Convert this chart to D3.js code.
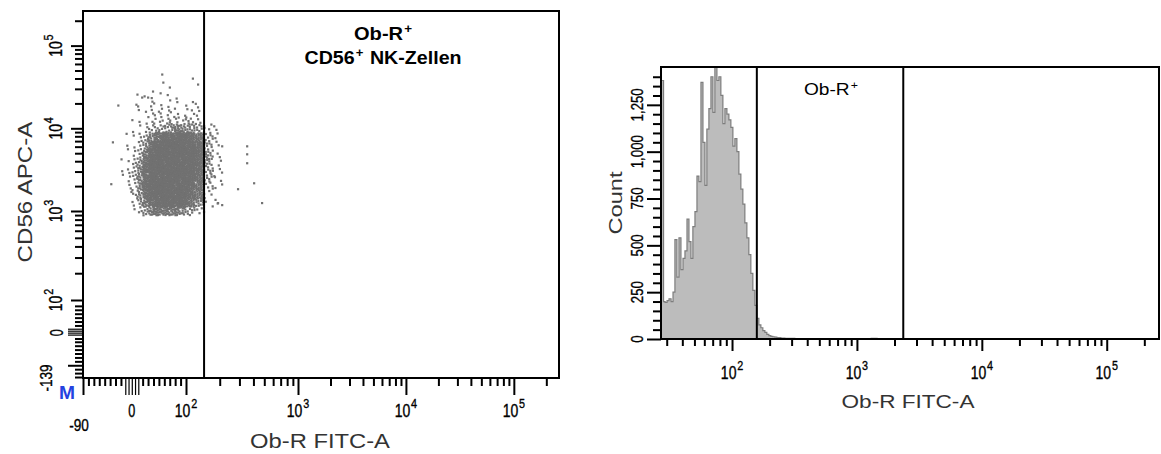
<!DOCTYPE html>
<html><head><meta charset="utf-8">
<script src="https://cdn.jsdelivr.net/npm/d3@7"></script>
<style>
body{margin:0;background:#fff;}
svg{display:block;font-family:Arial,"Liberation Sans",sans-serif;}
</style></head><body>
<svg id="c" width="1161" height="454"></svg>
<script>
// ================= DATA =================
// Left panel: density of the CD56+ cloud
// column edges (Ob-R FITC-A values) and row edges (CD56 APC-A values, top to bottom)
const fitcEdges = [-30,-20,-10,0,10,20,30,40,50,60,70,80,90,100,120,145,175,210];
const cd56Edges = [28184,22387,17783,14125,11220,8913,7079,5623,4467,3548,2818,2239,1778,1413,1122,891];
// dots per ~45 px² in each cell (rows top -> bottom)
const cloudDensity = [
  [0,0,0,0,1,1,1,0,1,1,0,1,0,0,0,0,0],
  [0,0,0,1,1,0,2,1,1,1,1,1,0,1,1,0,0],
  [0,0,0,0,1,1,2,2,2,2,2,1,1,2,1,0,0],
  [0,0,0,1,1,1,2,2,3,3,3,3,3,3,2,0,0],
  [0,0,0,1,1,2,3,4,5,6,8,10,9,7,5,2,1],
  [0,0,1,1,2,4,9,15,19,21,23,24,24,20,15,4,1],
  [0,0,1,1,3,7,16,24,26,26,26,26,26,24,19,5,1],
  [0,0,1,2,4,12,22,26,26,26,26,26,26,26,20,6,1],
  [0,1,1,3,7,16,26,26,26,26,26,26,26,26,20,6,1],
  [0,1,2,4,9,19,26,26,26,26,26,26,26,26,19,5,1],
  [0,1,2,4,9,19,26,26,26,26,26,26,26,23,16,4,1],
  [0,0,2,3,9,19,26,26,26,26,26,26,26,22,15,3,1],
  [0,0,1,3,7,16,22,26,26,26,26,26,26,19,12,2,0],
  [0,0,0,2,5,12,19,22,26,26,26,26,22,15,7,1,1],
  [0,0,0,1,3,6,11,14,14,14,12,12,9,5,2,0,0]
];
// isolated events
const outlierFitc = [-25,-35,-38,56,115,128,58,70,39,19,30,351,351,351,210,405,291,477,193,210,181];
const outlierCd56 = [18900,6780,2115,44800,40000,33900,35800,31200,27900,23600,23600,6070,4860,3790,6070,2170,1840,1250,1250,1181,2570];
const leftGate = 145;

// Right panel: histogram (Ob-R FITC-A bin edges and counts)
const histEdges = [27.0,28.3,29.1,30.2,31.3,32.5,33.7,34.9,36.2,37.6,39.0,40.5,42.0,43.6,45.2,46.9,48.6,50.5,52.4,54.3,
  56.4,58.5,60.7,62.9,65.3,67.8,70.3,72.9,75.7,78.5,81.4,84.5,87.7,91.0,94.4,97.9,101.6,105.4,109.4,113.5,
  117.7,122.1,126.7,131.5,136.4,141.5,146.8,152.4,158.1,164.0,170.2,176.5,183.2,190.0,197.2,204.5,212.2,220.2,228.4,237.0,
  245.9,255.1,264.7,274.6,284.9,295.6,306.7,318.2,330.1,342.5,355.4,
  380,410,450,500,560,630,700,800,900,1000,1150,1300,1450,1600];
const histCounts = [1380,200,195,205,215,200,250,530,330,540,370,430,470,640,520,430,600,680,870,840,
  1370,1050,820,1120,1230,1400,1210,1450,1380,1400,1300,1150,1230,1200,1170,1130,1030,1070,1000,880,
  800,720,620,540,450,350,260,180,110,75,60,45,35,25,18,14,12,10,8,7,
  5,5,4,4,3,3,3,2,2,2,
  2,2,1,1,1,1,0,0,0,0,0,0,4,0];
const rightGates = [158, 2350];

// tick values / labels
const logMajors = [100,1000,10000,100000];
const logMajorExp = ["2","3","4","5"];
const logMinors = [200,300,400,500,600,700,800,900,2000,3000,4000,5000,6000,7000,8000,9000,
  20000,30000,40000,50000,60000,70000,80000,90000,200000];
const leftXLinMinors = [-80,-70,-60,-50,-40,-30,-20,20,30,40,50,60,70,80,90];
const leftXLongTicks = [-90];
const leftXZeroTicks = [-12,-6,0,6,12];
const leftYLinMinors = [-136,-124,-112,-88,-76,-64,-52,-40,-28,-18,22,34,46,58,70,82];
const leftYLongTicks = [-100];
const leftYZeroTicks = [-6,0,6,12];
const histLowMinors = [30,40,50,60,70,80,90];
const histYTicks = [0,250,500,750,1000,1250];
const histYLabels = ["0","250","500","750","1,000","1,250"];
const histYMinors = [50,100,150,200,300,350,400,450,550,600,650,700,800,850,900,950,1050,1100,1150,1200,1300,1350,1400];

// ================= HELPERS =================
const svg = d3.select("#c");
const INK = "#000";

function biexScale(lin, log, split){
  const s = v => v < split ? lin(v) : log(v);
  s.copy = () => biexScale(lin.copy(), log.copy(), split);
  s.range = () => [lin.range()[0], log.range()[log.range().length-1]];
  s.domain = () => [lin.domain()[0], log.domain()[log.domain().length-1]];
  return s;
}

// one <text> made of tspans, centered at the anchor, condensed horizontally by a group scale
function richText(x, y, rot, parts, f, targetW, extra){
  const g = svg.append("g");
  const t = g.append("text").attr("text-anchor", "middle").attr("fill", (extra && extra.fill) || INK)
    .attr("font-weight", (extra && extra.weight) || "normal");
  if (extra && extra.stroke) t.attr("stroke", extra.fill || INK).attr("stroke-width", extra.stroke);
  let cur = 0;
  parts.forEach(p => {
    const dy = (p.dy || 0) - cur; cur = p.dy || 0;
    t.append("tspan").attr("font-size", p.size).attr("dy", dy).attr("dx", p.gap || 0).text(p.t);
  });
  let k = f;
  if (targetW) k = targetW / t.node().getComputedTextLength();
  g.attr("transform", `translate(${x},${y})` + (rot ? " rotate(-90)" : "") + ` scale(${k},1)`);
  return g;
}
const tickStyle = {stroke: 0.35};
function powLabel(x, y, exp, rot){
  richText(x, y, rot, [{t:"10", size: 17.5}, {t: exp, size: 13.5, dy: -9, gap: 1}], 0.8, null, tickStyle);
}
function plainLabel(x, y, txt, rot, size, f){
  richText(x, y, rot, [{t: txt, size: size}], f, null, tickStyle);
}
function ticks(axisFn, scale, values, size, tx, ty, w){
  const g = svg.append("g").attr("transform", `translate(${tx},${ty})`)
    .call(axisFn(scale).tickValues(values).tickSize(size).tickSizeOuter(0).tickFormat(""));
  g.select(".domain").remove();
  g.selectAll(".tick line").attr("stroke", "#000").attr("stroke-width", w || 2);
}

// ================= LEFT PANEL =================
const L = {x0: 83, x1: 559, y0: 11, y1: 378};
const xL = biexScale(d3.scaleLinear().domain([-90,100]).range([L.x0,186]),
                     d3.scaleLog().domain([100,1000,262143]).range([186,298,L.x1]), 100);
const yL = biexScale(d3.scaleLinear().domain([-139,100]).range([L.y1,300]),
                     d3.scaleLog().domain([100,1000,262143]).range([300,211,L.y0]), 100);

// dots
const cloud = [];
const G1 = 0.7548776662, G2 = 0.5698402910;
cloudDensity.forEach((row, ri) => {
  row.forEach((d, ci) => {
    if (!d) return;
    const xa = xL(fitcEdges[ci]), xb = xL(fitcEdges[ci+1]);
    const ya = yL(cd56Edges[ri]), yb = yL(cd56Edges[ri+1]);
    const area = Math.abs((xb-xa)*(yb-ya));
    const n = Math.max(1, Math.round(d * area / 45));
    const ox = (ci*0.318 + ri*0.127) % 1, oy = (ci*0.211 + ri*0.433) % 1;
    for (let k = 0; k < n; k++){
      const u = (ox + G1*(k+1)) % 1, v = (oy + G2*(k+1)) % 1;
      cloud.push([xa + u*(xb-xa), ya + v*(yb-ya)]);
    }
  });
});
outlierFitc.forEach((f, i) => cloud.push([xL(f), yL(outlierCd56[i])]));

svg.append("g").selectAll("rect").data(cloud).join("rect")
  .attr("x", d => d[0]-1).attr("y", d => d[1]-1).attr("width", 2.2).attr("height", 2.2)
  .attr("fill", "#717171");

svg.append("line").attr("x1", xL(leftGate)).attr("x2", xL(leftGate))
  .attr("y1", L.y0).attr("y2", L.y1).attr("stroke", "#000").attr("stroke-width", 2);
svg.append("rect").attr("x", L.x0).attr("y", L.y0).attr("width", L.x1-L.x0).attr("height", L.y1-L.y0)
  .attr("fill", "none").attr("stroke", "#000").attr("stroke-width", 2);

// left ticks
ticks(d3.axisBottom, xL, logMinors.concat(leftXLinMinors), 8, 0, L.y1);
ticks(d3.axisBottom, xL, leftXLongTicks.concat(logMajors), 17, 0, L.y1);
ticks(d3.axisBottom, xL, leftXZeroTicks, 17, 0, L.y1, 1.2);
ticks(d3.axisLeft, yL, logMinors.concat(leftYLinMinors), 8, L.x0, 0);
ticks(d3.axisLeft, yL, logMajors, 12, L.x0, 0);
ticks(d3.axisLeft, yL, leftYLongTicks, 15, L.x0, 0);
ticks(d3.axisLeft, yL, leftYZeroTicks, 15, L.x0, 0, 1.2);

// left tick labels
logMajors.forEach((v, i) => powLabel(xL(v), 417, logMajorExp[i], false));
plainLabel(xL(0), 417, "0", false, 17.5, 0.72);
plainLabel(79, 431, "-90", false, 17, 0.8);
logMajors.forEach((v, i) => powLabel(62, yL(v), logMajorExp[i], true));
plainLabel(63, yL(0), "0", true, 17.5, 0.72);
plainLabel(52, yL(-139), "-139", true, 17, 0.8);
richText(67, 399, false, [{t:"M", size: 19}], null, 16, {fill: "#2442e0", weight: "bold"});

// titles
richText(320, 448, false, [{t:"Ob-R FITC-A", size: 20}], null, 140, {fill: "#333"});
richText(32, 192, true, [{t:"CD56 APC-A", size: 21}], null, 141, {fill: "#333"});
richText(383, 40, false, [{t:"Ob-R", size: 18}, {t:"+", size: 12, dy: -7, gap: 1}], null, 57, {weight: "bold"});
richText(383, 64, false, [{t:"CD56", size: 18}, {t:"+", size: 12, dy: -7, gap: 1}, {t:"\u00a0NK-Zellen", size: 18, gap: 1}], null, 155, {weight: "bold"});

// ================= RIGHT PANEL =================
const R = {x0: 661, x1: 1159, y0: 67, y1: 339};
const hx = d3.scaleLog().domain([27, 262143]).range([R.x0, R.x1]);
const hy = d3.scaleLinear().domain([0, 1452]).range([R.y1, R.y0]);

const histPts = histCounts.map((c, i) => ({x: histEdges[i], y: c}));
histPts.push({x: histEdges[histEdges.length-1], y: 0});
svg.append("path").datum(histPts)
  .attr("d", d3.area().x(d => hx(d.x)).y0(hy(0)).y1(d => hy(d.y)).curve(d3.curveStepAfter))
  .attr("fill", "#bcbcbc");
svg.append("path").datum(histPts)
  .attr("d", d3.line().x(d => hx(d.x)).y(d => hy(d.y)).curve(d3.curveStepAfter))
  .attr("fill", "none").attr("stroke", "#7d7d7d").attr("stroke-width", 1.2);

rightGates.forEach(g => svg.append("line").attr("x1", hx(g)).attr("x2", hx(g))
  .attr("y1", R.y0).attr("y2", R.y1).attr("stroke", "#000").attr("stroke-width", 2));
svg.append("rect").attr("x", R.x0).attr("y", R.y0).attr("width", R.x1-R.x0).attr("height", R.y1-R.y0)
  .attr("fill", "none").attr("stroke", "#000").attr("stroke-width", 2);

ticks(d3.axisBottom, hx, logMinors.concat(histLowMinors), 7, 0, R.y1);
ticks(d3.axisBottom, hx, logMajors, 12, 0, R.y1);
ticks(d3.axisLeft, hy, histYMinors, 8, R.x0, 0);
ticks(d3.axisLeft, hy, histYTicks, 14, R.x0, 0);

logMajors.forEach((v, i) => powLabel(hx(v), 379, logMajorExp[i], false));
histYTicks.forEach((v, i) => plainLabel(643, hy(v), histYLabels[i], true, 17, 0.78));

richText(908, 408, false, [{t:"Ob-R FITC-A", size: 18.5}], null, 133, {fill: "#333"});
richText(622, 203, true, [{t:"Count", size: 19}], null, 63, {fill: "#333"});
richText(831, 95, false, [{t:"Ob-R", size: 17}, {t:"+", size: 11, dy: -6, gap: 1}], null, 53);
</script>
</body></html>
